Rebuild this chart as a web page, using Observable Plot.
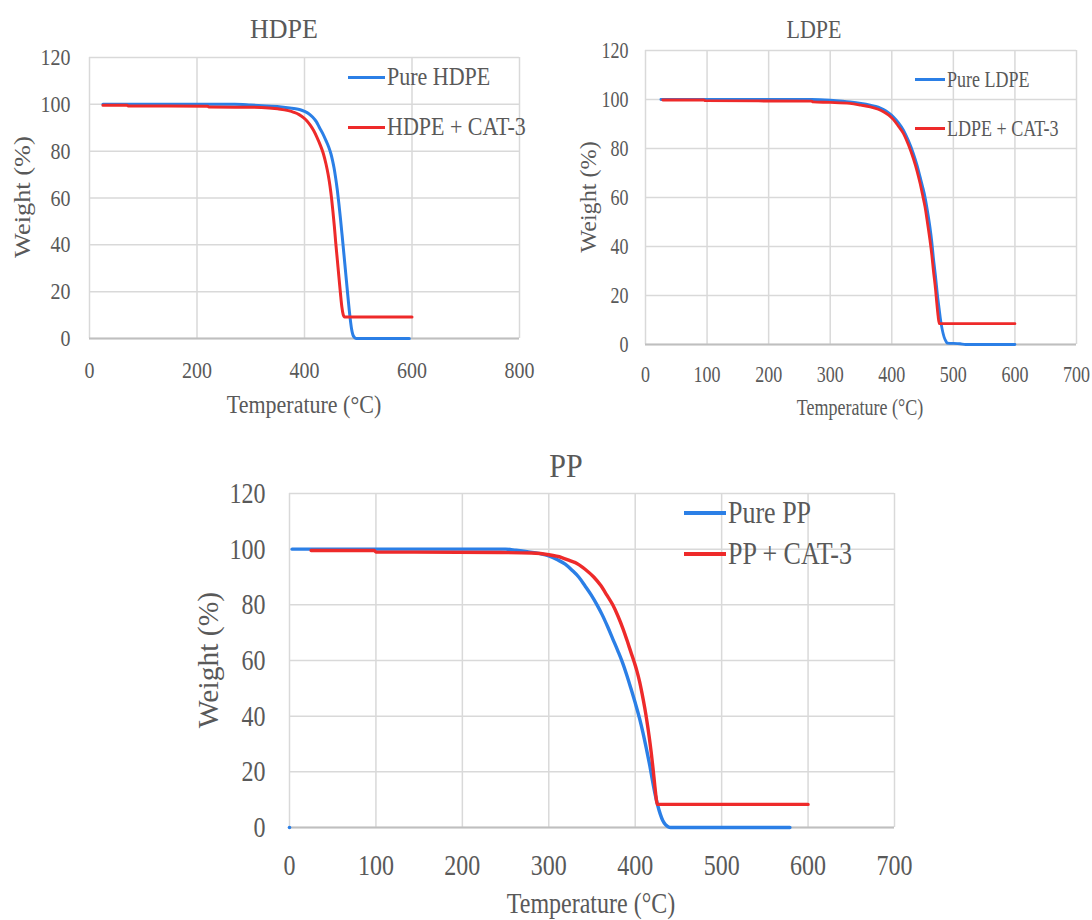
<!DOCTYPE html>
<html>
<head>
<meta charset="utf-8">
<script src="https://cdn.jsdelivr.net/npm/d3@7"></script>
<script src="https://cdn.jsdelivr.net/npm/@observablehq/plot@0.6"></script>
<style>
  html, body { margin: 0; padding: 0; background: #fff; }
  #root { position: relative; width: 1092px; height: 920px; overflow: hidden; color: #595959; }
  #root, #root *, #root svg text { font-family: "Liberation Serif", "Times New Roman", "DejaVu Serif", serif !important; }
  .abs { position: absolute; }
  .txt { position: absolute; white-space: nowrap; line-height: 1; }
  .leg { position: absolute; white-space: nowrap; display: flex; align-items: center; line-height: 1; }
  .sw { display: inline-block; margin-right: 2px; }
  .lt { display: inline-block; }
</style>
</head>
<body>
<div id="root"></div>
<script>
// ---------------- DATA ----------------
const seriesNames = {
  hdpe: ["Pure HDPE", "HDPE + CAT-3"],
  ldpe: ["Pure LDPE", "LDPE + CAT-3"],
  pp: ["Pure PP", "PP + CAT-3"]
};
const hdpeXTicks = [0, 200, 400, 600, 800];
const ldpeXTicks = [0, 100, 200, 300, 400, 500, 600, 700];
const ppXTicks = [0, 100, 200, 300, 400, 500, 600, 700];
const yTicks = [0, 20, 40, 60, 80, 100, 120];

// [temperature °C, weight %]
const hdpePure = [[25,100],[100,100],[200,100],[270,100],[300,99.7],[330,99.3],[357,98.9],[380,98.2],[392,97.7],[400,97],[408,96],[415,94.6],[422,92.6],[428,90],[434,87.5],[440,84.5],[445,81.8],[449,79],[452,76.2],[455,72.8],[458,68.5],[461,63.5],[464,57.5],[467,51],[470,44],[473,36.8],[476,29.5],[479,22.2],[482,15],[485,8.5],[487.5,4.2],[490,1.6],[493,0.4],[496,0],[595,0]];
const hdpeCat = [[25,99.6],[70,99.6],[72,99.3],[220,99.2],[222,98.9],[320,98.7],[350,98.1],[370,97.3],[380,96.6],[390,95.6],[398,94.3],[405,92.8],[411,91],[417,88.8],[423,86],[429,82.8],[435,79],[440,74.5],[444,70],[447.5,65],[450.5,59.5],[453,54],[455.5,48],[458,41.2],[461,33.8],[464,26.3],[467,19],[469.5,13.5],[472,10.2],[474.5,9.2],[600,9.2]];

const ldpePure = [[25,100],[100,100],[200,100],[270,100],[300,99.7],[320,99.3],[332,99],[350,98.4],[365,97.7],[378,96.9],[386.5,95.9],[395,94.5],[402.7,92.9],[411,90.5],[419,87.5],[427,83.2],[435,78],[441,73.2],[446,68.4],[450,64.5],[454,60.2],[458,54.5],[462,48],[465,42],[467.5,35.7],[471,28],[474,20.7],[477,14.5],[479.4,9.8],[482,6],[485,3],[488,1.3],[490,0.6],[511,0.3],[520,0],[600,0]];
const ldpeCat = [[28,99.8],[95,99.8],[97,99.5],[270,99.3],[272,99],[300,98.8],[332,98.4],[350,97.7],[365,97],[378,96],[386.5,95],[395,93.6],[402.7,91.8],[411,89],[419,86.1],[427,81.5],[435,75.9],[441,70.8],[446,65.7],[450,61],[454,56.1],[458,49.5],[462,42.5],[465,36.5],[467.5,30.3],[471,22.5],[473,17],[475,12],[477,8.5],[600,8.5]];

const ppPure = [[3,100],[100,100],[200,100],[250,100],[262,99.6],[275,99.1],[290,98.4],[300,97.6],[310,96.2],[319,94.6],[327,92.4],[334.6,90],[342,86.8],[349,83.6],[355.8,80],[362,76.3],[368,72.2],[374,67.8],[380,63.4],[385,59.5],[390,55],[395,50],[400,44.8],[405,39.2],[409,34],[413,28.2],[417,22],[420,16.8],[423,12],[426,8],[429,4.8],[432,2.4],[435,1],[438,0.3],[441,0],[579,0]];
const ppPureStartPoint = [[0,0]];
const ppCat = [[25,99.5],[98,99.5],[100,99],[245,98.8],[280,98.6],[300,98],[315,97],[325,95.8],[333,94.8],[342,92.8],[352,90],[360,87],[367,83.6],[374,80],[380,76],[386,71.3],[391,66.8],[395,63],[399,59.3],[402,56.2],[405,52.5],[408,48],[411,43],[413.5,38.3],[416,33],[418.5,27],[420.5,21.5],[422.5,15.5],[424,11.2],[425.5,8.3],[600,8.3]];

// ---------------- STYLE ----------------
const BLUE = "#2b7fe6";
const RED = "#ee2a2a";
const GRID = "#d9d9d9";
const AXIS = "#bfbfbf";
const TEXT = "#595959";
const FONT = "Liberation Serif, Times New Roman, serif";

const root = document.getElementById("root");

function toRows(arr) { return arr.map(([t, w]) => ({t, w})); }

function addText(str, x, y, size, sy, rotate) {
  const d = document.createElement("div");
  d.className = "txt";
  d.style.left = x + "px";
  d.style.top = y + "px";
  d.style.fontSize = size + "px";
  d.style.transform = rotate
    ? `translate(-50%, -50%) rotate(-90deg) scaleX(${sy})`
    : `translate(-50%, -50%) scaleY(${sy})`;
  d.textContent = str;
  root.appendChild(d);
}

function addLegend(label, color, x, y, swW, swH, size, sy) {
  const d = document.createElement("div");
  d.className = "leg";
  d.style.left = x + "px";
  d.style.top = (y - size / 2) + "px";
  d.style.height = size + "px";
  d.style.fontSize = size + "px";
  const s = document.createElement("span");
  s.className = "sw";
  s.style.width = swW + "px";
  s.style.height = swH + "px";
  s.style.background = color;
  d.appendChild(s);
  const t = document.createElement("span");
  t.className = "lt";
  t.style.transform = `scaleY(${sy})`;
  t.textContent = label;
  d.appendChild(t);
  root.appendChild(d);
}

function makeChart(c) {
  const marks = [
    Plot.gridX(c.xTicks, {stroke: GRID, strokeOpacity: 1, strokeWidth: 1.5}),
    Plot.gridY(yTicks, {stroke: GRID, strokeOpacity: 1, strokeWidth: 1.5}),
    Plot.ruleY([0], {stroke: AXIS, strokeWidth: 2}),
    Plot.line(toRows(c.pure), {x: "t", y: "w", stroke: BLUE, strokeWidth: c.lw, curve: "monotone-x"}),
    Plot.line(toRows(c.cat), {x: "t", y: "w", stroke: RED, strokeWidth: c.lw, curve: "monotone-x"}),
    Plot.axisX(c.xTicks, {tickSize: 0, tickPadding: c.xPad, fontSize: c.tickSize, fill: TEXT, label: null}),
    Plot.axisY(yTicks, {tickSize: 0, tickPadding: c.yPad, fontSize: c.tickSize, fill: TEXT, label: null})
  ];
  if (c.extraDots) marks.push(Plot.dot(toRows(c.extraDots), {x: "t", y: "w", fill: BLUE, r: 1.8}));
  const svg = Plot.plot({
    width: c.w, height: c.h,
    marginLeft: c.ml, marginRight: c.mr, marginTop: c.mt, marginBottom: c.mb,
    x: {domain: [0, c.xMax], ticks: c.xTicks},
    y: {domain: [0, 120]},
    style: {fontFamily: FONT, fontSize: c.tickSize + "px", color: TEXT, background: "transparent", overflow: "visible"},
    marks
  });
  // stretch tick label glyphs vertically like the reference
  svg.querySelectorAll('g[aria-label$="tick label"] text').forEach(el => {
    const t = el.getAttribute("transform") || "";
    el.setAttribute("transform", (t + ` scale(1,${c.sy})`).trim());
  });
  svg.classList.add("abs");
  svg.style.left = c.left + "px";
  svg.style.top = c.top + "px";
  root.appendChild(svg);
}

// HDPE
makeChart({left: 0, top: 0, w: 545, h: 420, ml: 89, mr: 26, mt: 57, mb: 82, xMax: 800, xTicks: hdpeXTicks,
  pure: hdpePure, cat: hdpeCat, lw: 3, tickSize: 20, xPad: 23, yPad: 19, sy: 1.18});
addText("HDPE", 284, 29, 26, 1.08);
addText("Weight (%)", 22, 197, 24, 1.1, true);
addText("Temperature (°C)", 304, 405, 22, 1.15);
addLegend(seriesNames.hdpe[0], BLUE, 348, 77, 37, 3, 22, 1.18);
addLegend(seriesNames.hdpe[1], RED, 348, 127, 37, 3, 22, 1.18);

// LDPE
makeChart({left: 560, top: 0, w: 532, h: 430, ml: 85, mr: 16, mt: 50, mb: 86, xMax: 700, xTicks: ldpeXTicks,
  pure: ldpePure, cat: ldpeCat, lw: 2.8, tickSize: 18, xPad: 21.5, yPad: 17, sy: 1.25});
addText("LDPE", 814, 30, 22, 1.12);
addText("Weight (%)", 588, 197, 23, 1.05, true);
addText("Temperature (°C)", 860, 407, 18, 1.25);
addLegend(seriesNames.ldpe[0], BLUE, 915, 79, 30, 3, 18, 1.25);
addLegend(seriesNames.ldpe[1], RED, 915, 128, 30, 3, 18, 1.25);

// PP
makeChart({left: 180, top: 440, w: 740, h: 480, ml: 109, mr: 26, mt: 53, mb: 93, xMax: 700, xTicks: ppXTicks,
  pure: ppPure, cat: ppCat, lw: 3.4, tickSize: 24, xPad: 27, yPad: 24, sy: 1.22, extraDots: ppPureStartPoint});
addText("PP", 566, 466, 30, 1.1);
addText("Weight (%)", 208, 660, 29, 1.02, true);
addText("Temperature (°C)", 591, 903, 24, 1.2);
addLegend(seriesNames.pp[0], BLUE, 684, 513, 42, 4, 26, 1.2);
addLegend(seriesNames.pp[1], RED, 684, 554, 42, 4, 26, 1.2);
</script>
</body>
</html>
